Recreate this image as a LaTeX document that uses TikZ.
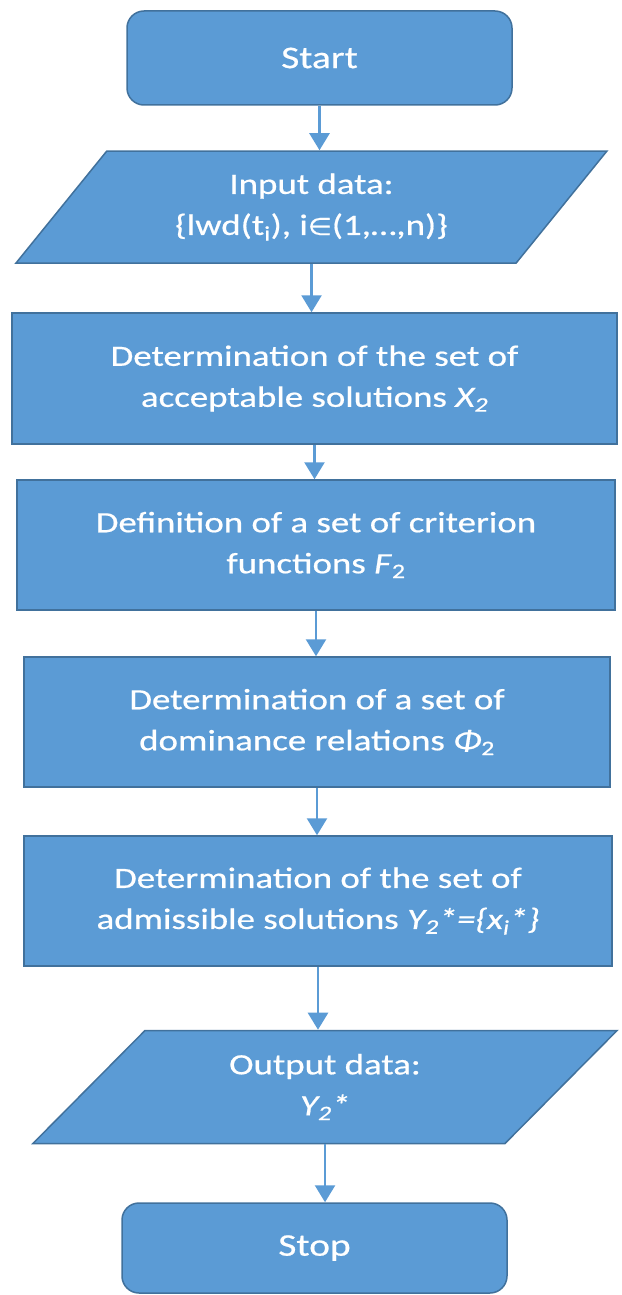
\documentclass[tikz,border=0pt]{standalone}
\usepackage{fontspec}
\setmainfont[FakeStretch=1.25, FakeBold=0.6]{Carlito}
\newfontfamily\symfont[FakeStretch=1.15, FakeBold=0.4]{DejaVu Sans}
\usetikzlibrary{arrows.meta, positioning, shapes.geometric}

\definecolor{boxblau}{HTML}{5B9BD5}
\definecolor{randblau}{HTML}{41719C}

%%% Definitionen der Styles
\tikzset{
  basis/.style    = {fill = boxblau, draw = randblau, line width = 1.5pt, text = white,
                     align = center, inner sep = 0pt, font = \fontsize{29.5}{41}\selectfont},
  terminal/.style = {basis, rounded corners = 17pt, font = \fontsize{31.5}{38}\selectfont},
  prozess/.style  = {basis, rectangle},
  daten/.style    = {basis, trapezium, trapezium left angle = 48, trapezium right angle = 132,
                     trapezium stretches = true},
  fluss/.style    = {draw = boxblau, line width = 2.5pt, -{Triangle[width = 20pt, length = 17pt]}}
}

\begin{document}
\begin{tikzpicture}[x = 1pt, y = -1pt]

%%% Definition der BoundingBox
\useasboundingbox (0,0) rectangle (621,1295);

%%% Knoten des Ablaufs
\node[terminal, minimum width = 385pt, minimum height = 94pt] (start) at (319.5,58) {Start};
\node[daten, minimum width = 593pt, minimum height = 112pt] (eingabe) at (311.5,207)
  {Input data:\\\{lwd(t\textsubscript{i}), i{\symfont\fontsize{24}{41}\selectfont ∈}(1,…,n)\}};
\node[prozess, minimum width = 605pt, minimum height = 131pt] (menge) at (314.5,378.5)
  {Determination of the set of\\acceptable solutions \textit{X\textsubscript{2}}};
\node[prozess, minimum width = 598pt, minimum height = 130pt] (kriterien) at (316,545)
  {Definition of a set of criterion\\functions \textit{F}\textsubscript{2}};
\node[prozess, minimum width = 586pt, minimum height = 130pt] (dominanz) at (317,722)
  {Determination of a set of\\dominance relations \textit{Φ}\textsubscript{2}};
\node[prozess, minimum width = 588pt, minimum height = 130pt] (zulaessig) at (318,901)
  {Determination of the set of\\admissible solutions \textit{Y\textsubscript{2}*=\{x\textsubscript{i}*\}}};
\node[daten, minimum width = 586pt, minimum height = 113pt] (ausgabe) at (325,1087)
  {Output data:\\\textit{Y\textsubscript{2}*}};
\node[terminal, minimum width = 385pt, minimum height = 90pt] (stop) at (314.5,1248) {Stop};

%%% Pfeile
\draw[fluss] (start.south)     -- (start.south |- eingabe.north);
\draw[fluss] (eingabe.south)   -- (eingabe.south |- menge.north);
\draw[fluss] (menge.south)     -- (menge.south |- kriterien.north);
\draw[fluss] (kriterien.south) -- (kriterien.south |- dominanz.north);
\draw[fluss] (dominanz.south)  -- (dominanz.south |- zulaessig.north);
\draw[fluss] (zulaessig.south) -- (zulaessig.south |- ausgabe.north);
\draw[fluss] (ausgabe.south)   -- (ausgabe.south |- stop.north);

\end{tikzpicture}
\end{document}
